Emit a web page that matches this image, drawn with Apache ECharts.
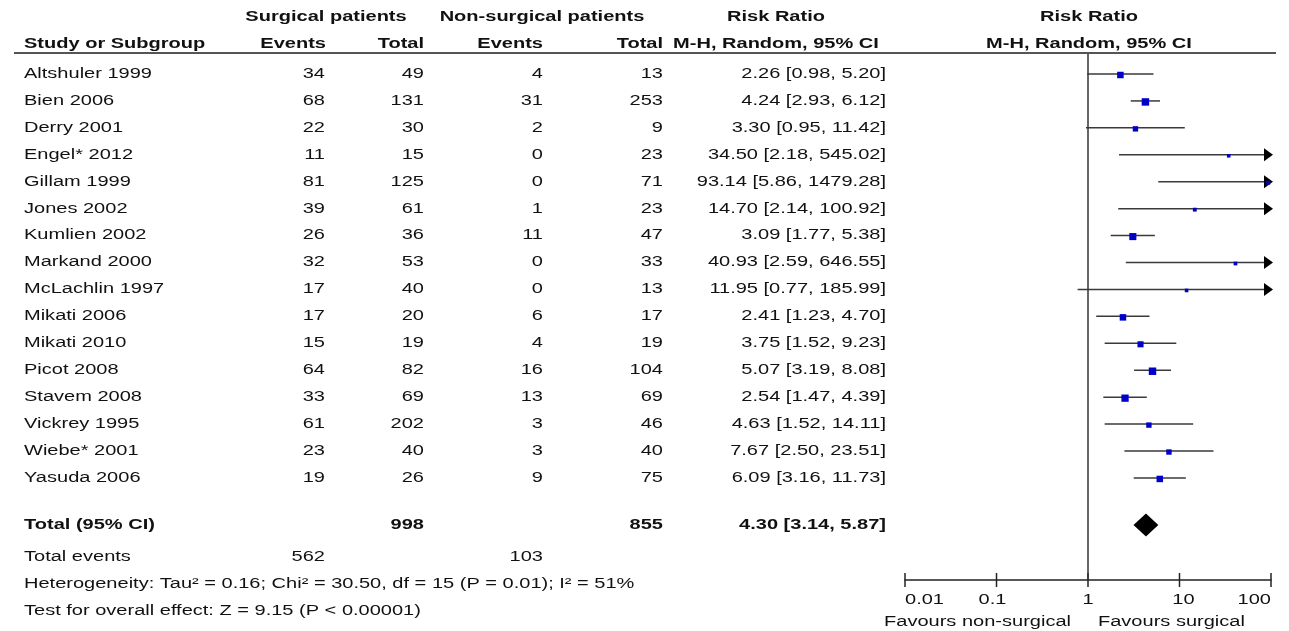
<!DOCTYPE html>
<html><head><meta charset="utf-8">
<script src="https://cdn.jsdelivr.net/npm/echarts/dist/echarts.min.js"></script>
<style>html,body{margin:0;padding:0;background:#fff}#c{width:1289px;height:631px}</style>
</head><body><div id="c"></div>
<script>
// ---------------- data ----------------
const studies = ['Altshuler 1999','Bien 2006','Derry 2001','Engel* 2012','Gillam 1999','Jones 2002','Kumlien 2002','Markand 2000','McLachlin 1997','Mikati 2006','Mikati 2010','Picot 2008','Stavem 2008','Vickrey 1995','Wiebe* 2001','Yasuda 2006'];
const surgEvents = [34,68,22,11,81,39,26,32,17,17,15,64,33,61,23,19];
const surgTotal  = [49,131,30,15,125,61,36,53,40,20,19,82,69,202,40,26];
const nonEvents  = [4,31,2,0,0,1,11,0,0,6,4,16,13,3,3,9];
const nonTotal   = [13,253,9,23,71,23,47,33,13,17,19,104,69,46,40,75];
const riskRatio  = [2.26,4.24,3.30,34.50,93.14,14.70,3.09,40.93,11.95,2.41,3.75,5.07,2.54,4.63,7.67,6.09];
const ciLow      = [0.98,2.93,0.95,2.18,5.86,2.14,1.77,2.59,0.77,1.23,1.52,3.19,1.47,1.52,2.50,3.16];
const ciHigh     = [5.20,6.12,11.42,545.02,1479.28,100.92,5.38,646.55,185.99,4.70,9.23,8.08,4.39,14.11,23.51,11.73];
const weights    = [8.0,10.5,5.5,2.3,3.0,2.8,9.5,2.6,2.3,8.0,7.0,10.5,10.0,5.5,5.5,8.0]; // estimated %
const pooled     = {rr:4.30, lo:3.14, hi:5.87};
const totals     = {surgTotal:998, nonTotal:855, surgEvents:562, nonEvents:103};
const heterogeneityText = 'Heterogeneity: Tau\u00B2 = 0.16; Chi\u00B2 = 30.50, df = 15 (P = 0.01); I\u00B2 = 51%';
const overallText = 'Test for overall effect: Z = 9.15 (P < 0.00001)';
const tickValues = [0.01,0.1,1,10,100];
const tickLabels = ['0.01','0.1','1','10','100'];
const favoursLeft = 'Favours non-surgical';
const favoursRight = 'Favours surgical';

// ---------------- layout ----------------
const FONT = 'Liberation Sans, Arial, Helvetica, sans-serif';
const FS = 14, SX = 1.43;
const ROW0 = 74, ROWH = 26.93;
const rowOf = px => (px - ROW0) / ROWH;
const fmt = v => v.toFixed(2);

const items = [];
const add = (x, r, t, a, b) => items.push({x, r, t, a, b: !!b});
// headers
add(326, rowOf(17), 'Surgical patients', 'center', true);
add(542, rowOf(17), 'Non-surgical patients', 'center', true);
add(776, rowOf(17), 'Risk Ratio', 'center', true);
add(1089, rowOf(17), 'Risk Ratio', 'center', true);
add(24, rowOf(44), 'Study or Subgroup', 'left', true);
add(326, rowOf(44), 'Events', 'right', true);
add(424, rowOf(44), 'Total', 'right', true);
add(543, rowOf(44), 'Events', 'right', true);
add(663, rowOf(44), 'Total', 'right', true);
add(776, rowOf(44), 'M-H, Random, 95% CI', 'center', true);
add(1089, rowOf(44), 'M-H, Random, 95% CI', 'center', true);
// study rows
studies.forEach((s, i) => {
  add(24, i, s, 'left');
  add(325, i, String(surgEvents[i]), 'right');
  add(424, i, String(surgTotal[i]), 'right');
  add(543, i, String(nonEvents[i]), 'right');
  add(663, i, String(nonTotal[i]), 'right');
  add(886, i, fmt(riskRatio[i]) + ' [' + fmt(ciLow[i]) + ', ' + fmt(ciHigh[i]) + ']', 'right');
});
const rTot = rowOf(525);
add(24, rTot, 'Total (95% CI)', 'left', true);
add(424, rTot, String(totals.surgTotal), 'right', true);
add(663, rTot, String(totals.nonTotal), 'right', true);
add(886, rTot, fmt(pooled.rr) + ' [' + fmt(pooled.lo) + ', ' + fmt(pooled.hi) + ']', 'right', true);
const rEv = rowOf(557.5);
add(24, rEv, 'Total events', 'left');
add(325, rEv, String(totals.surgEvents), 'right');
add(543, rEv, String(totals.nonEvents), 'right');
add(24, rowOf(584), heterogeneityText, 'left');
add(24, rowOf(611), overallText, 'left');

const PLOT_TOP = 53, PLOT_BOTTOM = 580, PLOT_LEFT = 905, PLOT_RIGHT = 1271;
const W = 1289, H = 631;

const chart = echarts.init(document.getElementById('c'), null, {renderer: 'canvas'});
const option = {
  animation: false,
  backgroundColor: '#fff',
  grid: [
    {left: 0, top: 0, width: W, height: H},
    {left: PLOT_LEFT, top: PLOT_TOP, width: PLOT_RIGHT - PLOT_LEFT, height: PLOT_BOTTOM - PLOT_TOP}
  ],
  xAxis: [
    {gridIndex: 0, type: 'value', min: 0, max: W, show: false},
    {gridIndex: 1, type: 'log', logBase: 10, min: 0.01, max: 100, position: 'bottom',
     axisLine: {show: true, onZero: false, lineStyle: {color: '#222', width: 1.5}},
     axisTick: {show: false}, axisLabel: {show: false}, splitLine: {show: false}}
  ],
  yAxis: [
    {gridIndex: 0, type: 'value', inverse: true, min: rowOf(0), max: rowOf(H), show: false},
    {gridIndex: 1, type: 'value', inverse: true, min: rowOf(PLOT_TOP), max: rowOf(PLOT_BOTTOM), show: false}
  ],
  graphic: [
    {type: 'line', shape: {x1: 14, y1: 53, x2: 1276, y2: 53}, style: {stroke: '#555', lineWidth: 2}, z: 10},
    {type: 'text', x: 1071, y: 622, scaleX: SX, style: {text: favoursLeft, font: FS + 'px ' + FONT, fill: '#111', align: 'right', verticalAlign: 'middle'}},
    {type: 'text', x: 1098, y: 622, scaleX: SX, style: {text: favoursRight, font: FS + 'px ' + FONT, fill: '#111', align: 'left', verticalAlign: 'middle'}}
  ],
  series: [
    { // table text
      type: 'custom', xAxisIndex: 0, yAxisIndex: 0, clip: false,
      data: items.map((it, i) => [it.x, it.r, i]),
      renderItem: (params, api) => {
        const it = items[params.dataIndex];
        const p = api.coord([api.value(0), api.value(1)]);
        return {type: 'text', x: p[0], y: p[1], scaleX: SX,
          style: {text: it.t, font: (it.b ? 'bold ' : '') + FS + 'px ' + FONT, fill: '#111', align: it.a, verticalAlign: 'middle'}};
      }
    },
    { // CI lines + squares
      type: 'custom', xAxisIndex: 1, yAxisIndex: 1, clip: false,
      data: studies.map((s, i) => [riskRatio[i], ciLow[i], ciHigh[i], i, weights[i]]),
      encode: {x: [0, 1, 2], y: 3},
      renderItem: (params, api) => {
        const est = api.value(0), lo = api.value(1), hi = api.value(2), r = api.value(3), w = api.value(4);
        const pL = api.coord([Math.max(lo, 0.01), r]);
        const pH = api.coord([Math.min(hi, 100), r]);
        const pE = api.coord([est, r]);
        const sz = Math.max(3.6, 2.3 * Math.sqrt(w));
        const children = [
          {type: 'line', shape: {x1: pL[0], y1: pL[1], x2: pH[0], y2: pH[1]}, style: {stroke: '#3a3a3a', lineWidth: 1.5}}
        ];
        if (hi > 100) {
          children.push({type: 'polygon', shape: {points: [[pH[0] - 7, pH[1] - 6.5], [pH[0] + 2, pH[1]], [pH[0] - 7, pH[1] + 6.5]]}, style: {fill: '#000'}});
        }
        children.push({type: 'rect', shape: {x: pE[0] - sz / 2, y: pE[1] - sz / 2 + 1, width: sz, height: sz}, style: {fill: '#0000C8'}});
        return {type: 'group', children};
      }
    },
    { // pooled diamond + null line
      type: 'custom', xAxisIndex: 1, yAxisIndex: 1, clip: false,
      data: [[pooled.rr, pooled.lo, pooled.hi, rTot]],
      encode: {x: [0, 1, 2], y: 3},
      renderItem: (params, api) => {
        const r = api.value(3);
        const pE = api.coord([api.value(0), r]);
        const pL = api.coord([api.value(1), r]);
        const pH = api.coord([api.value(2), r]);
        return {type: 'polygon', shape: {points: [[pL[0], pL[1]], [pE[0], pE[1] - 11.5], [pH[0], pH[1]], [pE[0], pE[1] + 11.5]]}, style: {fill: '#000'}};
      },
      markLine: {silent: true, symbol: 'none', label: {show: false},
        lineStyle: {color: '#333', width: 1.5, type: 'solid'},
        data: [{xAxis: 1}]}
    },
    { // axis ticks + labels
      type: 'custom', xAxisIndex: 1, yAxisIndex: 1, clip: false,
      data: tickValues.map((v, i) => [v, i]),
      encode: {x: 0},
      renderItem: (params, api) => {
        const i = api.value(1);
        const x = api.coord([api.value(0), 0])[0];
        const yb = params.coordSys.y + params.coordSys.height;
        const n = tickValues.length;
        const align = i === 0 ? 'left' : (i === n - 1 ? 'right' : 'center');
        const dx = (i === 1 ? -4 : (i === 3 ? 4 : 0));
        return {type: 'group', children: [
          {type: 'line', shape: {x1: x, y1: yb - 7, x2: x, y2: yb + 7}, style: {stroke: '#222', lineWidth: 1.5}},
          {type: 'text', x: x + dx, y: yb + 20, scaleX: SX, style: {text: tickLabels[i], font: FS + 'px ' + FONT, fill: '#111', align: align, verticalAlign: 'middle'}}
        ]};
      }
    }
  ]
};
chart.setOption(option);
</script></body></html>
